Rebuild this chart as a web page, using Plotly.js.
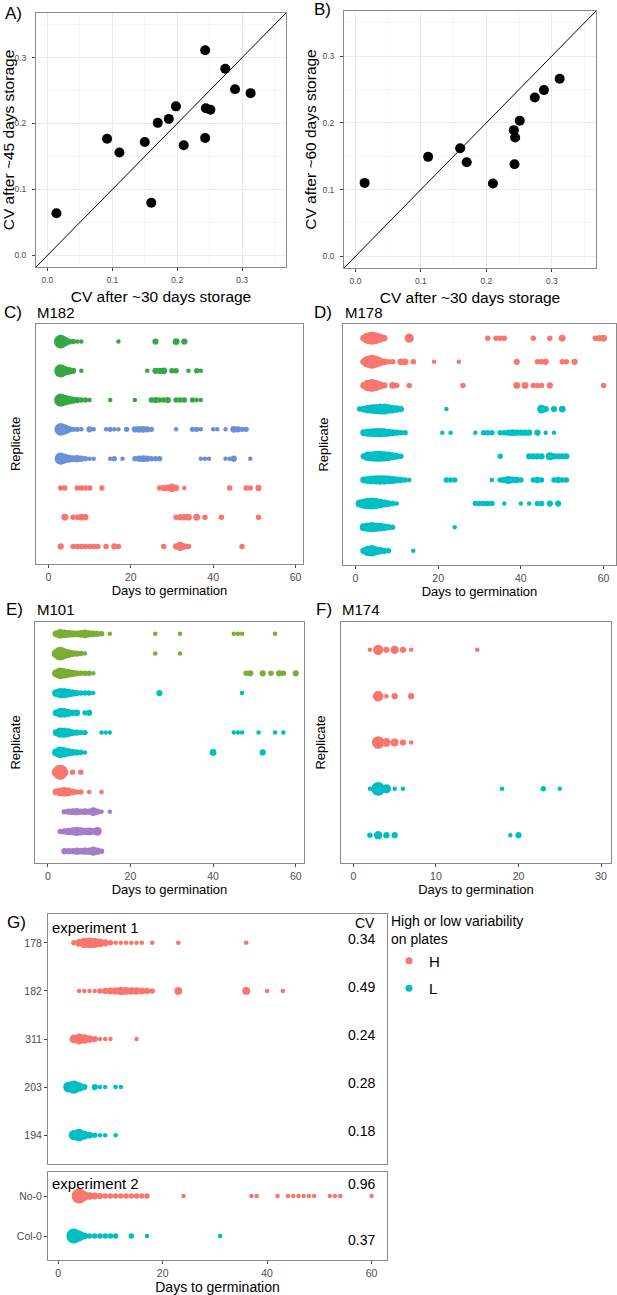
<!DOCTYPE html>
<html><head><meta charset="utf-8">
<script src="https://cdn.plot.ly/plotly-3.0.1.min.js"></script>
<style>html,body{margin:0;padding:0;background:#fff}</style>
</head><body><div id="chart" style="width:617px;height:1295px"></div>
<script>
// ================= DATA =================
// Panel A: CV after ~30 days vs ~45 days
const A_x = [0.014,0.092,0.111,0.150,0.160,0.170,0.187,0.198,0.210,0.243,0.243,0.244,0.251,0.274,0.289,0.313];
const A_y = [0.064,0.177,0.156,0.172,0.080,0.201,0.207,0.226,0.167,0.311,0.178,0.223,0.221,0.283,0.252,0.246];
// Panel B: CV after ~30 days vs ~60 days
const B_x = [0.014,0.111,0.160,0.170,0.210,0.242,0.244,0.243,0.251,0.274,0.288,0.312];
const B_y = [0.110,0.149,0.162,0.141,0.109,0.189,0.178,0.138,0.203,0.238,0.249,0.266];

// Panel C: M182 (rows top to bottom), days to germination and number of seeds
const C_grp = ["g","g","g","b","b","r","r","r"];
const C_days = [
 [3,4,5,6,7,8,17,26,31,33],
 [3,4,5,6,8,24,26,27,28,30,31,34,36,37],
 [3,4,5,6,7,8,9,10,15,21,25,26,27,28,29,31,32,33,35,36,37],
 [3,4,5,6,7,8,10,11,14,15,16,17,19,21,22,23,24,25,31,35,36,37,40,41,43,45,46,47,48],
 [3,4,5,6,7,8,9,10,11,15,16,18,21,22,23,24,25,26,27,37,38,39,43,44,45,49],
 [3,4,7,8,9,10,13,27,28,29,30,31,33,44,48,49,51],
 [4,6,7,8,9,31,32,33,34,36,38,42,51],
 [3,6,7,8,9,10,11,12,14,16,17,28,31,32,33,34,47]
];
const C_n = [
 [24,10,3,2,1,1,1,3,4,3],
 [22,10,6,3,1,1,3,3,4,2,2,1,2,1],
 [22,14,8,5,3,2,2,1,1,1,2,3,2,2,3,2,2,2,2,1,1],
 [20,12,4,2,2,1,3,1,1,2,1,1,2,3,4,4,3,2,1,2,2,1,1,1,1,4,3,2,2],
 [18,10,6,4,5,3,2,1,1,1,2,1,2,3,4,3,2,2,2,1,1,1,1,1,3,1],
 [2,2,2,2,2,2,2,2,3,4,8,3,1,2,2,2,3],
 [4,2,2,4,3,2,3,3,4,4,2,2,2],
 [3,2,2,2,2,2,2,2,2,3,2,2,3,9,3,2,2]
];

// Panel D: M178
const D_grp = ["r","r","r","t","t","t","t","t","t","t"];
const D_days = [
 [2,3,4,5,6,7,13,32,34,35,36,43,47,50,58,59,60],
 [2,3,4,5,6,7,8,9,11,12,14,19,25,39,44,45,46,50,51,53],
 [2,3,4,5,6,7,9,10,13,26,39,41,43,44,45,47,60],
 [1,2,3,4,5,6,7,8,9,10,11,22,45,46,48,50],
 [2,3,4,5,6,7,8,9,10,11,12,21,23,29,31,32,33,35,36,37,38,39,40,41,42,44,46,48],
 [2,3,4,5,6,7,8,9,10,11,35,42,43,44,45,47,48,49,50,51],
 [2,3,4,5,6,7,8,9,10,11,12,13,22,23,24,33,35,36,37,38,39,40,43,44,45,48,49,50,51],
 [1,2,3,4,5,6,7,8,9,10,29,30,31,32,33,36,40,42,44,45,47,49],
 [2,3,4,5,6,7,8,9,24],
 [2,3,4,5,6,7,8,14]
];
const D_n = [
 [4,16,22,16,8,3,9,2,2,2,2,2,2,4,2,3,4],
 [4,18,25,18,8,4,2,2,4,4,2,1,1,3,2,2,3,2,2,3],
 [4,16,20,14,6,3,4,2,2,2,4,4,2,2,2,3,2],
 [2,4,8,10,12,14,14,10,8,5,3,1,8,3,3,4],
 [4,6,8,9,10,8,6,4,3,2,2,1,1,1,2,2,2,2,2,3,4,3,3,3,3,3,1,1],
 [3,10,12,14,14,12,10,6,4,2,2,3,3,3,3,6,3,3,3,3],
 [4,6,8,9,10,10,8,6,4,3,2,1,2,2,2,1,2,3,6,4,3,2,2,3,2,2,3,2,2],
 [6,12,16,18,14,10,6,4,2,1,2,2,2,2,2,1,1,1,2,2,3,3],
 [6,10,12,10,8,5,3,2,1],
 [4,12,16,8,5,3,2,1]
];

// Panel E: M101
const E_grp = ["o","o","o","t","t","t","t","r","r","p","p","p"];
const E_days = [
 [2,3,4,5,6,7,8,9,10,11,12,13,15,26,32,45,46,47,55],
 [2,3,4,5,6,7,8,9,26,32],
 [2,3,4,5,6,7,8,9,10,11,48,49,52,54,56,57,60],
 [2,3,4,5,6,7,8,9,10,11,27,47],
 [2,3,4,5,6,7,9,10],
 [2,3,4,5,6,7,8,9,13,14,15,45,46,47,51,55,57],
 [2,3,4,5,6,7,8,9,40,52],
 [2,3,4,6,8],
 [2,3,4,5,6,7,8,10,13],
 [4,5,6,7,8,9,10,11,12,13,15],
 [3,4,5,6,7,8,9,10,11,12],
 [4,5,6,7,8,9,10,11,12,13]
];
const E_n = [
 [4,10,8,6,5,4,6,8,5,4,3,2,1,1,1,1,1,1,1],
 [8,24,14,8,4,3,2,1,1,1],
 [6,16,12,8,5,3,2,2,2,1,2,3,3,2,3,2,3],
 [6,12,12,8,5,3,2,2,2,1,3,1],
 [4,10,10,6,3,4,2,3],
 [4,12,12,8,4,3,2,2,1,1,1,1,1,1,1,1,1],
 [6,16,12,7,4,3,2,1,4,3],
 [8,30,6,2,2],
 [4,8,10,8,4,2,2,1,1],
 [2,3,4,5,3,4,3,8,3,1,1],
 [2,3,5,7,9,7,5,6,4,8],
 [3,3,3,5,4,5,5,9,5,2]
];

// Panel F: M174
const F_grp = ["r","r","r","t","t"];
const F_days = [[2,3,4,5,6,7,15],[3,4,5,7],[3,4,5,6,7],[2,3,4,5,6,18,23,25],[2,3,4,5,19,20]];
const F_n = [[1,12,3,7,3,1,1],[13,1,3,3],[20,8,6,3,1],[1,25,9,1,1,1,2,1],[2,7,3,3,1,3]];

// Panel G: experiment 1 and experiment 2
const G1_lines = ["178","182","311","203","194"];
const G1_grp = ["H","H","H","L","L"];
const G1_cv = ["0.34","0.49","0.24","0.28","0.18"];
const G1_days = [
 [3,4,5,6,7,8,9,10,11,12,13,14,15,16,18,23,36],
 [4,5,6,7,8,9,10,11,12,13,14,15,16,17,18,23,36,40,43],
 [3,4,5,6,7,8,9,10,15],
 [2,3,4,5,7,8,9,11,12],
 [3,4,5,6,7,8,9,11]
];
const G1_n = [
 [2,6,12,14,12,8,5,2,1,1,1,1,1,1,1,1,1],
 [1,1,1,1,2,3,4,5,7,6,5,5,4,3,2,6,6,1,1],
 [8,14,10,5,3,1,1,1,1],
 [14,22,10,3,3,1,1,1,1],
 [12,20,8,4,2,1,1,1]
];
const G2_lines = ["No-0","Col-0"];
const G2_grp = ["H","L"];
const G2_cv = ["0.96","0.37"];
const G2_days = [
 [4,5,6,7,8,9,10,11,12,13,14,15,16,17,24,37,38,42,44,45,46,47,48,49,52,53,54,60],
 [3,4,5,6,7,8,9,10,11,14,17,31]
];
const G2_n = [
 [30,10,5,4,3,2,2,2,2,2,2,2,2,2,1,1,1,1,1,1,1,1,1,1,1,1,1,1],
 [30,14,4,2,2,2,2,2,2,2,1,1]
];
const legendNames = ["H","L"];

// ================= STYLE / LAYOUT =================
const W = 617, H = 1295;
const FONT = 'Liberation Sans, Arial, Helvetica, sans-serif';
const COL = {r:'#F8766D', t:'#00BFC4', g:'#35a845', b:'#6b90d6', o:'#7aad36', p:'#a67cc8', H:'#F8766D', L:'#00BFC4'};
const NMAX = 30, DMIN = 4.5, DMAX = 15;
function diam(n){ return DMIN + (DMAX - DMIN) * (Math.sqrt(n) - 1) / (Math.sqrt(NMAX) - 1); }
function dx(l, r){ return [l / W, r / W]; }
function dy(t, b){ return [1 - b / H, 1 - t / H]; }
function px(x){ return x / W; }
function py(y){ return 1 - y / H; }

const traces = [];
traces.push({type:'scatter', mode:'markers', x:A_x, y:A_y, xaxis:'x', yaxis:'y',
  marker:{color:'#000', size:10, line:{width:0}}, showlegend:false, hoverinfo:'skip'});
traces.push({type:'scatter', mode:'markers', x:B_x, y:B_y, xaxis:'x2', yaxis:'y2',
  marker:{color:'#000', size:10, line:{width:0}}, showlegend:false, hoverinfo:'skip'});

function rowTraces(days, ns, grp, xa, ya, labels){
  days.forEach(function(d, i){
    const yv = labels ? labels[i] : i + 1;
    traces.push({type:'scatter', mode:'markers', x:d, y:d.map(function(){ return yv; }),
      xaxis:xa, yaxis:ya, marker:{color:COL[grp[i]], size:ns[i].map(diam), line:{width:0}, opacity:1},
      showlegend:false, hoverinfo:'skip'});
  });
}
rowTraces(C_days, C_n, C_grp, 'x3', 'y3');
rowTraces(D_days, D_n, D_grp, 'x4', 'y4');
rowTraces(E_days, E_n, E_grp, 'x5', 'y5');
rowTraces(F_days, F_n, F_grp, 'x6', 'y6');
rowTraces(G1_days, G1_n, G1_grp, 'x7', 'y7', G1_lines);
rowTraces(G2_days, G2_n, G2_grp, 'x8', 'y8', G2_lines);
legendNames.forEach(function(nm){
  traces.push({type:'scatter', mode:'markers', x:[null], y:[null], xaxis:'x7', yaxis:'y7',
    name:nm, legendgroup:nm, showlegend:true, marker:{color:COL[nm], size:7}, hoverinfo:'skip'});
});

function ax(extra){
  return Object.assign({showline:true, mirror:true, linecolor:'#8a8a8a', linewidth:1, zeroline:false,
    showgrid:false, ticks:'outside', ticklen:3, tickwidth:1, tickcolor:'#444',
    tickfont:{family:FONT, size:10.5, color:'#4d4d4d'}, automargin:false, fixedrange:true}, extra);
}
const CVR = [-0.0175, 0.3675];
function cvAxis(domain, anchor, title, isY){
  return ax({domain:domain, anchor:anchor, range:CVR, tick0:0, dtick:0.1, tickformat:'.1f',
    showgrid:true, gridcolor:'#ebebeb', gridwidth:1,
    minor:{tick0:0, dtick:0.05, showgrid:true, gridcolor:'#f3f3f3', gridwidth:0.6, ticks:''},
    tickfont:{family:FONT, size:8.5, color:'#4d4d4d'}, ticklabelstandoff: isY ? 4 : 2,
    title:{text:title, font:{family:FONT, size:15.5, color:'#000'}, standoff: isY ? 2 : 6}});
}
function dayAxis(domain, anchor, range, dtick, title, size, standoff){
  const o = {domain:domain, anchor:anchor, range:range, tick0:0, dtick:dtick};
  if (title) o.title = {text:title, font:{family:FONT, size:size, color:'#000'}, standoff:standoff};
  return ax(o);
}
function repAxis(domain, anchor, n, standoff){
  return ax({domain:domain, anchor:anchor, range:[n + 0.6, 0.4], showticklabels:false, ticks:'',
    title:{text:'Replicate', font:{family:FONT, size:13, color:'#000'}, standoff:standoff}});
}

const annotations = [];
function note(text, x, y, size, anchor){
  annotations.push({text:text, xref:'paper', yref:'paper', x:px(x), y:py(y), xanchor:anchor || 'left',
    yanchor:'middle', showarrow:false, font:{family:FONT, size:size, color:'#000'}});
}
note('A)', 3, 13, 17); note('B)', 312, 9, 17);
note('C)', 2, 312, 17); note('M182', 35, 312, 15);
note('D)', 312, 312, 17); note('M178', 343, 312, 15);
note('E)', 4, 609, 17); note('M101', 35, 609, 15);
note('F)', 314, 609, 17); note('M174', 340, 609, 15);
note('G)', 5, 922, 17);
note('experiment 1', 50, 928, 15);
note('experiment 2', 50, 1183, 15);
note('CV', 377, 923, 14, 'right');
G1_cv.forEach(function(t, i){
  annotations.push({text:t, xref:'paper', yref:'y7', x:px(377), y:i, xanchor:'right', yanchor:'middle',
    yshift:4, showarrow:false, font:{family:FONT, size:14, color:'#000'}});
});
const G2_cvShift = [12, -3.5];
G2_cv.forEach(function(t, i){
  annotations.push({text:t, xref:'paper', yref:'y8', x:px(377), y:i, xanchor:'right', yanchor:'middle',
    yshift:G2_cvShift[i], showarrow:false, font:{family:FONT, size:14, color:'#000'}});
});

const GR = [-1.95, 62.95];
const layout = {
  width:W, height:H, autosize:false, margin:{l:0, r:0, t:0, b:0},
  paper_bgcolor:'#fff', plot_bgcolor:'#fff', font:{family:FONT, color:'#000'},
  xaxis:  cvAxis(dx(36, 286), 'y', 'CV after ~30 days storage', false),
  yaxis:  cvAxis(dy(13, 267), 'x', 'CV after ~45 days storage', true),
  xaxis2: cvAxis(dx(344, 596), 'y2', 'CV after ~30 days storage', false),
  yaxis2: cvAxis(dy(11, 268), 'x2', 'CV after ~60 days storage', true),
  xaxis3: dayAxis(dx(36, 303), 'y3', [-3, 61.8], 20, 'Days to germination', 13, 3),
  yaxis3: repAxis(dy(324, 564), 'x3', C_days.length, 11),
  xaxis4: dayAxis(dx(343, 616), 'y4', [-3, 63], 20, 'Days to germination', 13, 3),
  yaxis4: repAxis(dy(324, 565), 'x4', D_days.length, 10),
  xaxis5: dayAxis(dx(35, 304), 'y5', [-3.1, 62], 20, 'Days to germination', 13, 3),
  yaxis5: repAxis(dy(622, 863), 'x5', E_days.length, 10),
  xaxis6: dayAxis(dx(341, 611), 'y6', [-1.5, 31.2], 10, 'Days to germination', 13, 3),
  yaxis6: repAxis(dy(622, 863), 'x6', F_days.length, 11),
  xaxis7: ax({domain:dx(48, 387), anchor:'y7', range:GR, showticklabels:false, ticks:''}),
  yaxis7: ax({domain:dy(914, 1164), anchor:'x7', type:'category', categoryorder:'array',
    categoryarray:G1_lines, range:[G1_lines.length - 0.4, -0.6]}),
  xaxis8: dayAxis(dx(48, 387), 'y8', GR, 20, 'Days to germination', 14, 4),
  yaxis8: ax({domain:dy(1172, 1260), anchor:'x8', type:'category', categoryorder:'array',
    categoryarray:G2_lines, range:[G2_lines.length - 0.4, -0.6]}),
  shapes:[
    {type:'line', xref:'x', yref:'y', x0:CVR[0], y0:CVR[0], x1:CVR[1], y1:CVR[1], line:{color:'#000', width:1}},
    {type:'line', xref:'x2', yref:'y2', x0:CVR[0], y0:CVR[0], x1:CVR[1], y1:CVR[1], line:{color:'#000', width:1}}
  ],
  annotations:annotations,
  showlegend:true,
  legend:{x:px(389), y:py(908), xanchor:'left', yanchor:'top', bgcolor:'rgba(0,0,0,0)',
    title:{text:'High or low variability<br>on plates', font:{family:FONT, size:14, color:'#000'}},
    font:{family:FONT, size:15, color:'#000'}, tracegroupgap:5, itemsizing:'trace'}
};

Plotly.newPlot('chart', traces, layout, {displayModeBar:false, staticPlot:true});
</script>
</body></html>
